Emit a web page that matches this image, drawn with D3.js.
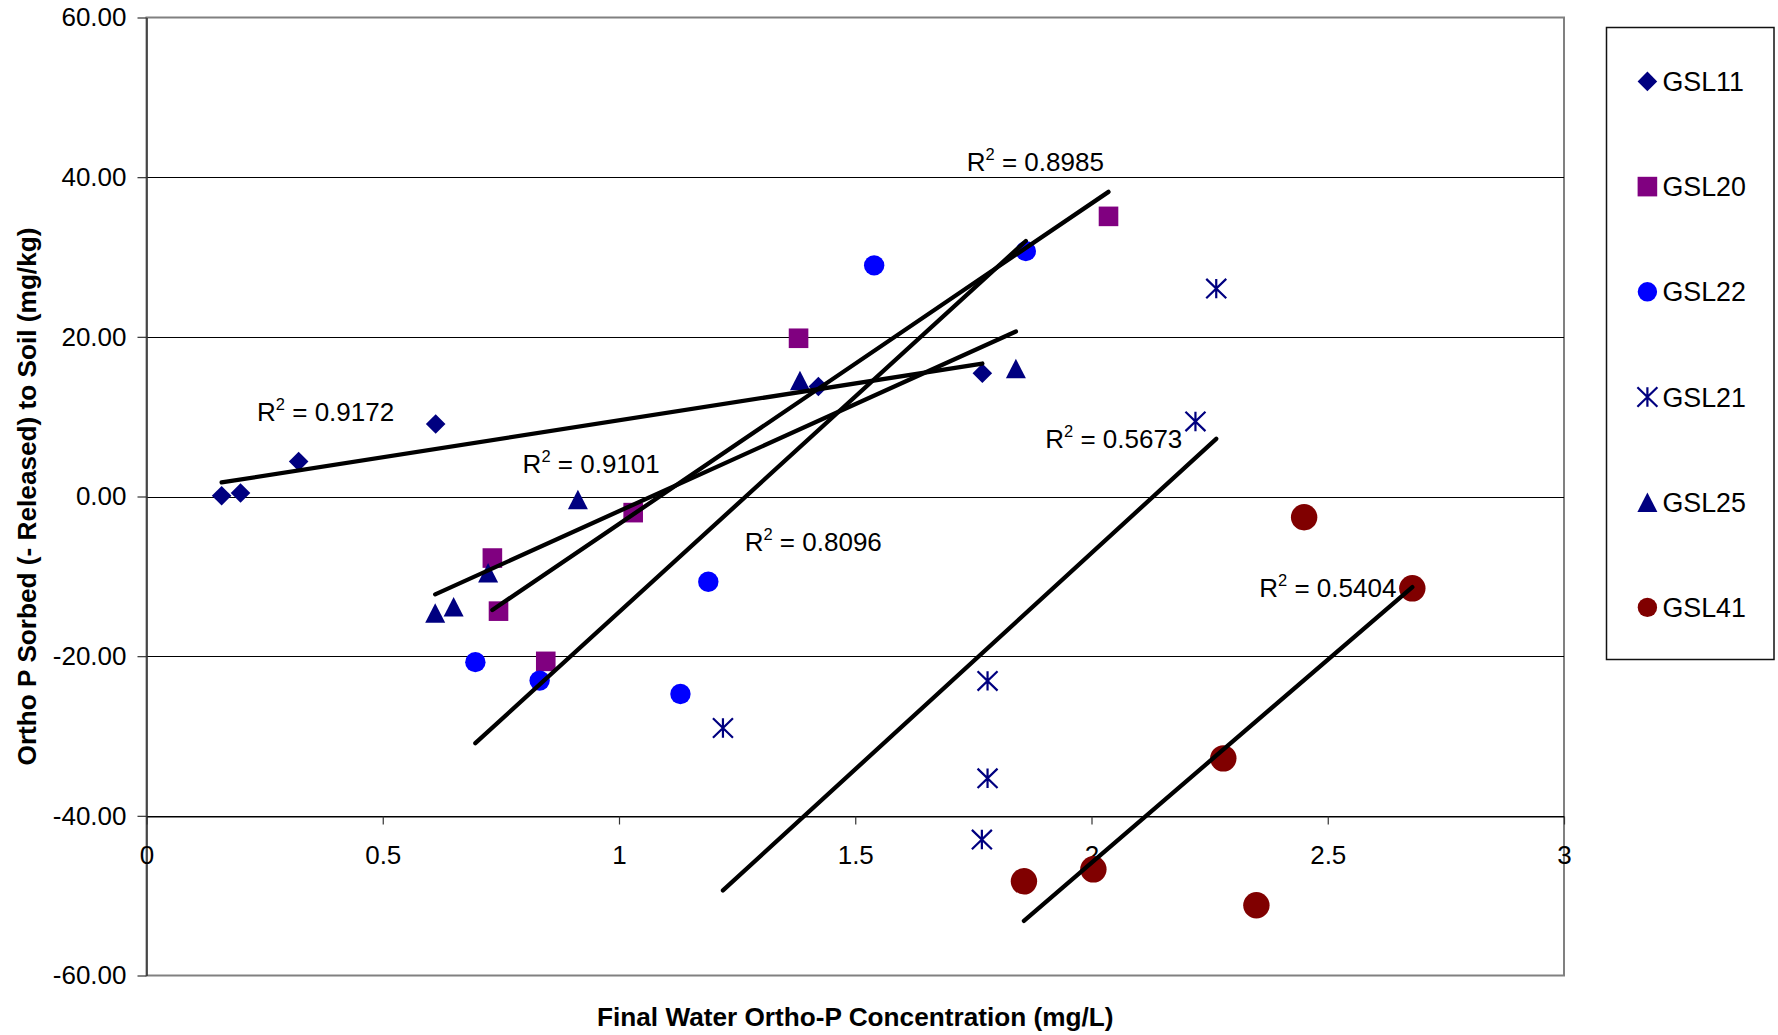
<!DOCTYPE html>
<html>
<head>
<meta charset="utf-8">
<script src="https://cdn.jsdelivr.net/npm/d3@7"></script>
<style>
  html, body { margin: 0; padding: 0; background: #fff; }
  svg { display: block; }
  text { font-family: "Liberation Sans", Arial, Helvetica, sans-serif; fill: #000; }
</style>
</head>
<body>
<svg id="chart" width="1778" height="1035"></svg>
<script>
// ---- data -------------------------------------------------------------
const seriesNames = ["GSL11", "GSL20", "GSL22", "GSL21", "GSL25", "GSL41"];

// Final water ortho-P concentration (mg/L)
const gsl11X = [0.159, 0.199, 0.322, 0.612, 1.422, 1.769];
const gsl20X = [0.732, 0.745, 0.845, 1.030, 1.380, 2.036];
const gsl22X = [0.696, 0.832, 1.130, 1.189, 1.540, 1.861];
const gsl21X = [1.220, 1.780, 1.780, 1.768, 2.220, 2.264];
const gsl25X = [0.611, 0.650, 0.723, 0.913, 1.383, 1.840];
const gsl41X = [1.857, 2.004, 2.279, 2.349, 2.450, 2.679];

// Ortho P sorbed (- released) to soil (mg/kg)
const gsl11Y = [0.09, 0.44, 4.38, 9.08, 13.78, 15.44];
const gsl20Y = [-7.71, -14.36, -20.65, -2.02, 19.82, 35.09];
const gsl22Y = [-20.75, -23.06, -24.74, -10.68, 28.95, 30.74];
const gsl21Y = [-29.0, -23.1, -35.3, -42.97, 9.4, 26.04];
const gsl25Y = [-14.6, -13.8, -9.56, -0.39, 14.54, 16.02];
const gsl41Y = [-48.2, -46.7, -32.8, -51.2, -2.6, -11.5];

// R² of each linear trendline
const r2Values = ["0.9172", "0.8985", "0.8096", "0.5673", "0.9101", "0.5404"];

const xTickValues = [0, 0.5, 1, 1.5, 2, 2.5, 3];
const yTickValues = [-60, -40, -20, 0, 20, 40, 60];

// ---- layout & styles --------------------------------------------------
const W = 1778, H = 1035;
const plot = { left: 146.5, right: 1564, top: 17.5, bottom: 975.5 };
const xAxisCross = -40;

const seriesX = [gsl11X, gsl20X, gsl22X, gsl21X, gsl25X, gsl41X];
const seriesY = [gsl11Y, gsl20Y, gsl22Y, gsl21Y, gsl25Y, gsl41Y];
const markerStyle = [
  { shape: "diamond",  color: "#000080", size: 9.8 },
  { shape: "square",   color: "#800080", size: 9.8 },
  { shape: "circle",   color: "#0000FF", size: 10.2 },
  { shape: "asterisk", color: "#000080", size: 10 },
  { shape: "triangle", color: "#000080", size: 10 },
  { shape: "circle",   color: "#800000", size: 13.2 }
];
// where each R² annotation sits, in data units (left end / baseline)
const r2Anchor = [
  [0.234, 9.49], [1.736, 40.81], [1.266, -6.82],
  [1.902, 6.04], [0.796, 2.91], [2.355, -12.58]
];

const FONT = 26;
const svg = d3.select("#chart");
svg.append("rect").attr("width", W).attr("height", H).attr("fill", "#fff");

const x = d3.scaleLinear().domain([0, 3]).range([plot.left, plot.right]);
const y = d3.scaleLinear().domain([-60, 60]).range([plot.bottom, plot.top]);

// plot frame
svg.append("rect")
  .attr("x", plot.left).attr("y", plot.top)
  .attr("width", plot.right - plot.left).attr("height", plot.bottom - plot.top)
  .attr("fill", "#fff").attr("stroke", "#808080").attr("stroke-width", 2);

// horizontal gridlines
svg.append("g").selectAll("line")
  .data(yTickValues.filter(v => v > -60 && v < 60))
  .join("line")
  .attr("x1", plot.left).attr("x2", plot.right)
  .attr("y1", d => Math.round(y(d)) + 0.5).attr("y2", d => Math.round(y(d)) + 0.5)
  .attr("stroke", "#000").attr("stroke-width", 1);

// y axis
const yAxis = svg.append("g")
  .attr("transform", `translate(${plot.left},0)`)
  .call(d3.axisLeft(y).tickValues(yTickValues).tickFormat(d => d.toFixed(2))
    .tickSize(9).tickSizeOuter(0).tickPadding(11));
yAxis.select(".domain").attr("stroke", "#333").attr("stroke-width", 1.5);
yAxis.selectAll(".tick line").attr("stroke", "#333").attr("stroke-width", 1.2);
yAxis.selectAll(".tick text").attr("font-size", FONT)
  .attr("font-family", "Liberation Sans, Arial, sans-serif").attr("fill", "#000");

// x axis, crossing the value axis at -40
const xAxis = svg.append("g")
  .attr("transform", `translate(0,${Math.round(y(xAxisCross)) + 0.5})`)
  .call(d3.axisBottom(x).tickValues(xTickValues).tickFormat(d => String(d))
    .tickSize(8).tickSizeOuter(0).tickPadding(21));
xAxis.select(".domain").attr("stroke", "#000").attr("stroke-width", 1);
xAxis.selectAll(".tick line").attr("stroke", "#333").attr("stroke-width", 1.2);
xAxis.selectAll(".tick text").attr("font-size", FONT)
  .attr("font-family", "Liberation Sans, Arial, sans-serif").attr("fill", "#000");

// ---- markers ----------------------------------------------------------
function drawMarker(g, style, cx, cy, sizeOverride) {
  const s = sizeOverride || style.size;
  const c = style.color;
  if (style.shape === "diamond") {
    g.append("path").attr("d", `M${cx},${cy - s}L${cx + s},${cy}L${cx},${cy + s}L${cx - s},${cy}Z`).attr("fill", c);
  } else if (style.shape === "square") {
    g.append("rect").attr("x", cx - s).attr("y", cy - s).attr("width", 2 * s).attr("height", 2 * s).attr("fill", c);
  } else if (style.shape === "circle") {
    g.append("circle").attr("cx", cx).attr("cy", cy).attr("r", s).attr("fill", c);
  } else if (style.shape === "triangle") {
    g.append("path").attr("d", `M${cx},${cy - s * 0.975}L${cx + s},${cy + s * 0.975}L${cx - s},${cy + s * 0.975}Z`).attr("fill", c);
  } else if (style.shape === "asterisk") {
    const h = s * 0.97;
    g.append("path")
      .attr("d", `M${cx},${cy - h}V${cy + h}M${cx - s},${cy - h}L${cx + s},${cy + h}M${cx - s},${cy + h}L${cx + s},${cy - h}`)
      .attr("stroke", c).attr("stroke-width", 2.2).attr("fill", "none");
  }
}

const markerLayer = svg.append("g");
seriesNames.forEach((name, i) => {
  const g = markerLayer.append("g").attr("class", "series " + name);
  seriesX[i].forEach((xv, k) => drawMarker(g, markerStyle[i], x(xv), y(seriesY[i][k])));
});

// ---- least-squares trendlines ----------------------------------------
function linearFit(xs, ys) {
  const mx = d3.mean(xs), my = d3.mean(ys);
  let sxy = 0, sxx = 0;
  xs.forEach((xv, k) => { sxy += (xv - mx) * (ys[k] - my); sxx += (xv - mx) ** 2; });
  const slope = sxy / sxx;
  return { slope, intercept: my - slope * mx };
}

const trendLayer = svg.append("g");
seriesNames.forEach((name, i) => {
  const fit = linearFit(seriesX[i], seriesY[i]);
  const [x0, x1] = d3.extent(seriesX[i]);
  trendLayer.append("line")
    .attr("x1", x(x0)).attr("y1", y(fit.intercept + fit.slope * x0))
    .attr("x2", x(x1)).attr("y2", y(fit.intercept + fit.slope * x1))
    .attr("stroke", "#000").attr("stroke-width", 4.3).attr("stroke-linecap", "round");
});

// R² annotations
const labelLayer = svg.append("g");
r2Values.forEach((v, i) => {
  const t = labelLayer.append("text")
    .attr("x", x(r2Anchor[i][0])).attr("y", y(r2Anchor[i][1]))
    .attr("font-size", FONT);
  t.append("tspan").text("R");
  t.append("tspan").attr("font-size", 16.5).attr("dy", -11).text("2");
  t.append("tspan").attr("dy", 11).text(" = " + v);
});

// ---- axis titles ------------------------------------------------------
svg.append("text")
  .attr("x", (plot.left + plot.right) / 2).attr("y", 1026)
  .attr("text-anchor", "middle").attr("font-size", 26.2).attr("font-weight", "bold")
  .text("Final Water Ortho-P Concentration (mg/L)");

svg.append("text")
  .attr("transform", `translate(36,${(plot.top + plot.bottom) / 2}) rotate(-90)`)
  .attr("text-anchor", "middle").attr("font-size", 26.2).attr("font-weight", "bold")
  .text("Ortho P Sorbed (- Released) to Soil (mg/kg)");

// ---- legend -----------------------------------------------------------
const legend = svg.append("g");
legend.append("rect")
  .attr("x", 1606.5).attr("y", 27.5).attr("width", 167.5).attr("height", 632)
  .attr("fill", "#fff").attr("stroke", "#111").attr("stroke-width", 1.5);
const legendTop = 81.4, legendStep = 105.2;
seriesNames.forEach((name, i) => {
  const cy = legendTop + i * legendStep;
  const st = markerStyle[i];
  drawMarker(legend, st, 1647.4, cy, st.shape === "circle" ? 9.7 : null);
  legend.append("text")
    .attr("x", 1662.5).attr("y", cy).attr("dy", "0.36em")
    .attr("font-size", 26.8).text(name);
});
</script>
</body>
</html>
